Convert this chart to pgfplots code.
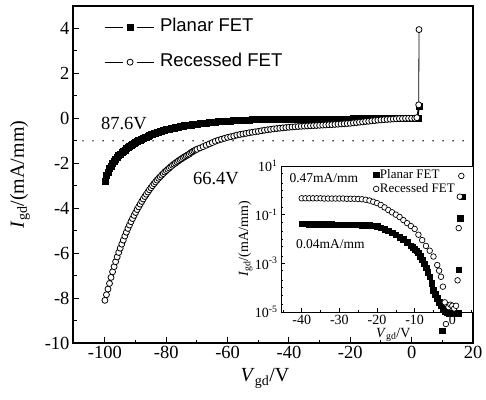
\documentclass[border=0pt]{standalone}
\usepackage{fontspec}
\setmainfont{Liberation Serif}
\newfontfamily\arialfont{Liberation Sans}
\usepackage{pgfplots}
\pgfplotsset{compat=1.18}
\usetikzlibrary{calc}
\pgfplotsset{/pgf/number format/assume math mode=true}

\begin{document}
\begin{tikzpicture}
\begin{axis}[name=main, scale only axis, width=400pt, height=337pt,
  xmin=-110.4, xmax=20, ymin=-10, ymax=5,
  xtick={-100,-80,...,20}, ytick={-10,-8,...,4},
  minor xtick={-90,-70,...,10}, minor ytick={-9,-7,...,3},
  tick pos=left, tick align=inside,
  major tick length=6pt, minor tick length=3.5pt,
  axis line style={line width=1.2pt},
  major tick style={line width=1pt, black}, minor tick style={line width=1pt, black},
  ticklabel style={font=\fontsize{18.5}{20}\selectfont},
  xlabel={\textit{V}\textsubscript{gd}/V},
  ylabel={\textit{I}\textsubscript{gd}/(mA/mm)},
  label style={font=\fontsize{20}{22}\selectfont},
  xlabel style={at={(axis description cs:0.48,-0.105)}, anchor=center},
  ylabel style={at={(axis description cs:-0.1325,0.5)}, anchor=center},
  legend image code/.code={
    \draw[#1,mark=none,line width=0.8pt] (0pt,0pt) -- (18pt,0pt);
    \draw[#1,mark=none,line width=0.8pt] (32pt,0pt) -- (49pt,0pt);
    \draw[#1,only marks] plot coordinates {(25.5pt,0pt)};
  },
  legend style={draw=none, fill=none, inner sep=0pt,
    at={(axis description cs:0.0775,0.966)}, anchor=north west,
    font=\arialfont\fontsize{18.5}{20}\selectfont, row sep=16pt,
    nodes={inner sep=1pt, text height=13pt, text depth=4pt},
    /tikz/every odd column/.append style={column sep=5pt}},
  legend cell align=left,
]
\addplot[black, line width=1.6pt, dash pattern=on 0pt off 10pt, line cap=round, forget plot]
  coordinates {(-110.4,-1) (20,-1)};

\addplot[black, line width=1.5pt, mark=square*, mark size=3pt, mark options={line width=0.5pt}] coordinates {
(-100,-2.78) (-99.5,-2.55) (-99,-2.38) (-98.5,-2.24) (-98,-2.12) (-97.5,-2.01) (-97,-1.91) (-96.5,-1.82) (-96,-1.74) (-95.5,-1.66)
(-95,-1.59) (-94.5,-1.52) (-94,-1.46) (-93.5,-1.40) (-93,-1.35) (-92.5,-1.30) (-92,-1.25) (-91.5,-1.20) (-91,-1.15) (-90.5,-1.11)
(-90,-1.07) (-89.5,-1.03) (-89,-0.99) (-88.5,-0.955) (-88,-0.92) (-87.5,-0.885) (-87,-0.85) (-86.5,-0.82) (-86,-0.79) (-85.5,-0.76)
(-85,-0.73) (-84.5,-0.70) (-84,-0.675) (-83.5,-0.65) (-83,-0.625) (-82.5,-0.60) (-82,-0.58) (-81.5,-0.56) (-81,-0.54) (-80.5,-0.52)
(-80,-0.50) (-79.5,-0.485) (-79,-0.47) (-78.5,-0.455) (-78,-0.44) (-77.5,-0.425) (-77,-0.41) (-76.5,-0.395) (-76,-0.38) (-75.5,-0.365)
(-75,-0.35) (-74.5,-0.34) (-74,-0.33) (-73.5,-0.32) (-73,-0.31) (-72.5,-0.30) (-72,-0.29) (-71.5,-0.28) (-71,-0.27) (-70.5,-0.26)
(-70,-0.25) (-69,-0.235) (-68,-0.22) (-67,-0.205) (-66,-0.19) (-65,-0.175) (-64,-0.16) (-63,-0.15) (-62,-0.14) (-61,-0.13)
(-60,-0.12) (-59,-0.11) (-58,-0.10) (-57,-0.09) (-56,-0.08) (-55,-0.075) (-54,-0.07) (-53,-0.065) (-52,-0.06) (-51,-0.055)
(-50,-0.05) (-49,-0.045) (-48,-0.04) (-47,-0.038) (-46,-0.036) (-45,-0.034) (-44,-0.032) (-43,-0.03) (-42,-0.028) (-41,-0.026)
(-40,-0.025) (-39,-0.024) (-38,-0.023) (-37,-0.022) (-36,-0.021) (-35,-0.02) (-34,-0.02) (-33,-0.02) (-32,-0.02) (-31,-0.02)
(-30,-0.02) (-29,-0.02) (-28,-0.02) (-27,-0.02) (-26,-0.02) (-25,-0.02) (-24,-0.02) (-23,-0.02) (-22,-0.02) (-21,-0.02)
(-20,-0.02) (-19,-0.015) (-18,-0.015) (-17,-0.015) (-16,-0.015) (-15,-0.015) (-14,-0.015) (-13,-0.015) (-12,-0.015) (-11,-0.015)
(-10,-0.015) (-9,-0.01) (-8,-0.01) (-7,-0.01) (-6,-0.01) (-5,-0.01) (-4,-0.01) (-3,-0.01) (-2,-0.01) (-1,-0.01)
(0,-0.005) (1,0.0) (2,0.02) (2.4,0.55)
};
\addlegendentry{Planar FET}

\addplot[black, line width=0.8pt, mark=*, mark size=3pt, mark options={fill=white, line width=0.8pt}] coordinates {
(-100,-8.10) (-99.5,-7.85) (-99,-7.60) (-98.5,-7.35) (-98,-7.08) (-97.5,-6.83) (-97,-6.60) (-96.5,-6.38) (-96,-6.17) (-95.5,-5.97)
(-95,-5.78) (-94.5,-5.60) (-94,-5.42) (-93.5,-5.24) (-93,-5.07) (-92.5,-4.90) (-92,-4.75) (-91.5,-4.60) (-91,-4.46) (-90.5,-4.32)
(-90,-4.19) (-89.5,-4.06) (-89,-3.94) (-88.5,-3.82) (-88,-3.70) (-87.5,-3.59) (-87,-3.48) (-86.5,-3.38) (-86,-3.28) (-85.5,-3.18)
(-85,-3.09) (-84.5,-3.00) (-84,-2.91) (-83.5,-2.83) (-83,-2.75) (-82.5,-2.67) (-82,-2.60) (-81.5,-2.53) (-81,-2.46) (-80.5,-2.39)
(-80,-2.33) (-79.5,-2.27) (-79,-2.21) (-78.5,-2.15) (-78,-2.09) (-77.5,-2.04) (-77,-1.99) (-76.5,-1.94) (-76,-1.89) (-75.5,-1.84)
(-75,-1.80) (-74.5,-1.75) (-74,-1.71) (-73.5,-1.67) (-73,-1.63) (-72.5,-1.59) (-72,-1.53) (-71.5,-1.49) (-71,-1.45) (-70.5,-1.41)
(-70,-1.38) (-69,-1.32) (-68,-1.26) (-67,-1.20) (-66,-1.14) (-65,-1.08) (-64,-1.02) (-63,-0.97) (-62,-0.93) (-61,-0.89)
(-60,-0.85) (-59,-0.82) (-58,-0.79) (-57,-0.745) (-56,-0.72) (-55,-0.695) (-54,-0.67) (-53,-0.645) (-52,-0.62) (-51,-0.60)
(-50,-0.58) (-49,-0.555) (-48,-0.53) (-47,-0.51) (-46,-0.49) (-45,-0.47) (-44,-0.455) (-43,-0.44) (-42,-0.425) (-41,-0.41)
(-40,-0.395) (-39,-0.385) (-38,-0.375) (-37,-0.365) (-36,-0.355) (-35,-0.345) (-34,-0.338) (-33,-0.331) (-32,-0.324) (-31,-0.317)
(-30,-0.31) (-29,-0.30) (-28,-0.295) (-27,-0.285) (-26,-0.28) (-25,-0.27) (-24,-0.26) (-23,-0.25) (-22,-0.24) (-21,-0.23)
(-20,-0.22) (-19,-0.20) (-18,-0.19) (-17,-0.17) (-16,-0.16) (-15,-0.14) (-14,-0.13) (-13,-0.11) (-12,-0.10) (-11,-0.08)
(-10,-0.07) (-9,-0.06) (-8,-0.05) (-7,-0.04) (-6,-0.03) (-5,-0.02) (-4,-0.01) (-3,-0.01) (-2,0) (-1,0)
(0,0) (1,0) (1.7,0.03) (2.3,0.6) (2.4,3.95)
};
\addlegendentry{Recessed FET}

\node[font=\fontsize{18.5}{20}\selectfont] at (axis cs:-93.8,-0.21) {87.6V};
\node[font=\fontsize{18.5}{20}\selectfont] at (axis cs:-63.8,-2.66) {66.4V};
\end{axis}

\begin{axis}[at={($(main.south west)+(208pt,31pt)$)}, anchor=south west,
  scale only axis, width=192pt, height=146pt,
  ymode=log, xmin=-45.5, xmax=5.5, ymin=1e-5, ymax=10,
  clip=false, axis background/.style={fill=white},
  xtick={-40,-30,...,0}, minor xtick={-45,-35,...,5},
  ytick={1e-5,1e-3,1e-1,1e1},
  yticklabels={10\textsuperscript{-5},10\textsuperscript{-3},10\textsuperscript{-1},10\textsuperscript{1}},
  minor ytick={2e-5,5e-5,1e-4,2e-4,5e-4,2e-3,5e-3,1e-2,2e-2,5e-2,2e-1,5e-1,1,2,5},
  tick pos=left, tick align=inside,
  major tick length=4pt, minor tick length=2pt,
  axis line style={line width=0.9pt},
  major tick style={line width=0.7pt, black}, minor tick style={line width=0.6pt, black},
  ticklabel style={font=\fontsize{14}{15}\selectfont},
  xticklabel style={inner sep=1pt, yshift=-2pt},
  xlabel={\textit{V}\textsubscript{gd}/V},
  ylabel={\textit{I}\textsubscript{gd}/(mA/mm)},
  label style={font=\fontsize{14}{15}\selectfont},
  xlabel style={at={(axis description cs:0.585,-0.158)}, anchor=center, inner sep=0.5pt},
  ylabel style={at={(axis description cs:-0.185,0.5)}, anchor=center},
  legend image code/.code={\draw[#1] plot coordinates {(0pt,0pt)};},
  legend style={draw=none, fill=none, inner sep=0pt,
    at={(axis description cs:0.48,0.985)}, anchor=north west,
    font=\fontsize{13}{14}\selectfont, row sep=1pt,
    nodes={inner sep=1pt, text height=9pt, text depth=2pt}},
  legend cell align=left,
]
\addplot[black, only marks, mark=square*, mark size=2.8pt] coordinates {
(-40,0.042) (-39,0.042) (-38,0.041) (-37,0.041) (-36,0.041) (-35,0.040) (-34,0.040) (-33,0.040) (-32,0.040) (-31,0.039)
(-30,0.039) (-29,0.039) (-28,0.039) (-27,0.038) (-26,0.038) (-25,0.038) (-24,0.037) (-23,0.037) (-22,0.036) (-21,0.035)
(-20,0.033) (-19,0.029) (-18,0.025) (-17,0.022) (-16,0.018) (-15,0.0148) (-14,0.012) (-13,0.0098) (-12,0.0075) (-11,0.0054)
(-10.5,0.0046) (-10,0.0039) (-9.5,0.0033) (-9,0.0027) (-8.5,0.002) (-8,0.0014) (-7.5,0.00095) (-7,0.00065) (-6.5,0.00043) (-6,0.00028)
(-5.5,0.00015) (-5,0.00008) (-4.5,0.000055) (-4,0.000036) (-3.5,0.000026) (-3,0.000019) (-2.5,0.000013) (-2,0.000011) (-1.5,0.0000095) (-1,0.000009)
(-0.5,0.000009) (0,0.000009) (0.5,0.000009) (1,0.000009) (1.5,0.000009) (-2.7,0.0000017) (1.7,0.00054) (2.1,0.07) (2.6,0.55)
};
\addlegendentry{Planar FET}
\addplot[black, only marks, mark=*, mark size=2.8pt, mark options={fill=white, line width=0.7pt}] coordinates {
(-40,0.47) (-39,0.47) (-38,0.47) (-37,0.47) (-36,0.47) (-35,0.47) (-34,0.46) (-33,0.46) (-32,0.46) (-31,0.46)
(-30,0.46) (-29,0.46) (-28,0.45) (-27,0.45) (-26,0.45) (-25,0.44) (-24,0.43) (-23,0.41) (-22,0.38) (-21,0.34)
(-20,0.30) (-19,0.25) (-18,0.20) (-17,0.155) (-16,0.125) (-15,0.10) (-14,0.08) (-13,0.06) (-12,0.045) (-11,0.034)
(-10,0.026) (-9,0.015) (-8,0.009) (-7,0.0052) (-6,0.0033) (-5,0.0019) (-4,0.00085) (-3.5,0.0005) (-3,0.00028) (-2.5,0.00011)
(-2,0.000025) (-1.7,0.0000032) (-1,0.000016) (-0.5,0.00002) (0,0.000018) (0.5,0.000014) (1,0.000018) (1.4,0.0002) (1.7,0.028) (2.0,0.55)
(2.4,3.9)
};
\addlegendentry{Recessed FET}
\node[font=\fontsize{13.5}{14}\selectfont] at (axis cs:-34.1,3.2) {0.47mA/mm};
\node[font=\fontsize{13.5}{14}\selectfont] at (axis cs:-32.4,0.0062) {0.04mA/mm};
\end{axis}
\pgfresetboundingbox
\path ($(main.south west)+(-73pt,-56pt)$) rectangle ($(main.north east)+(13pt,6pt)$);
\end{tikzpicture}
\end{document}
